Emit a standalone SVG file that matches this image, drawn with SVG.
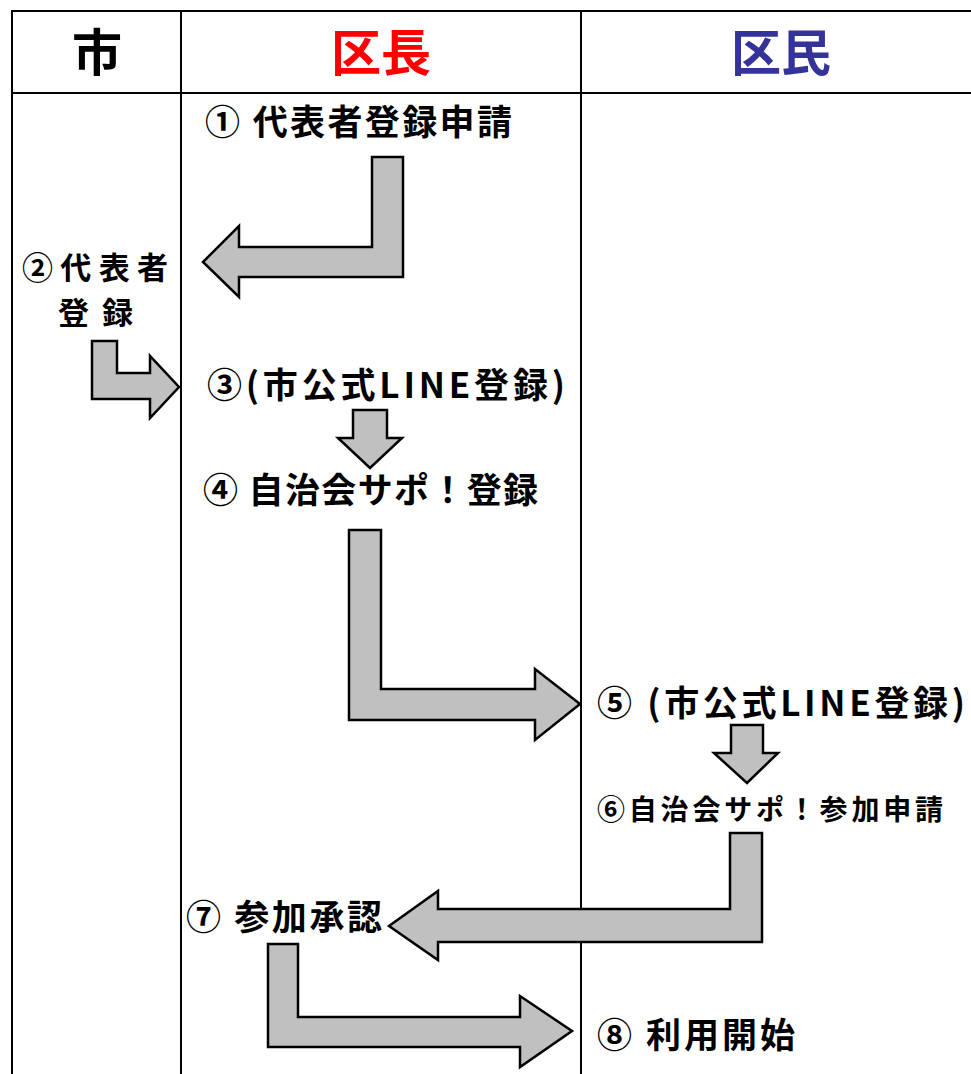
<svg xmlns="http://www.w3.org/2000/svg" width="971" height="1074" viewBox="0 0 971 1074">
<style>
.grid{stroke:#000;stroke-width:2;fill:none}
.arr{fill:#c0c0c0;stroke:#000;stroke-width:2.5;stroke-linejoin:miter}
.t{font-family:"Noto Sans CJK JP","Noto Sans",sans-serif;font-weight:bold;fill:#000;font-size:35px}
.s{font-size:28px}
.m{font-size:31px}
.h{font-family:"Noto Sans CJK JP","Noto Sans",sans-serif;font-weight:bold;font-size:50px;text-anchor:middle}
</style>
<rect width="971" height="1074" fill="#fff"/>
<g id="table">
<line class="grid" x1="11" y1="11" x2="971" y2="11"/>
<line class="grid" x1="12" y1="11" x2="12" y2="1074"/>
<line class="grid" x1="181" y1="11" x2="181" y2="1074"/>
<line class="grid" x1="581" y1="11" x2="581" y2="1074"/>
<line class="grid" x1="11" y1="93" x2="971" y2="93"/>
</g>
<g id="header">
<text class="h" x="97" y="71" fill="#000">市</text>
<text class="h" x="381" y="71" fill="#ff0000">区長</text>
<text class="h" x="781" y="71" fill="#333399">区民</text>
</g>
<g id="connectors">
<path class="arr" d="M372,157 L403,157 L403,277 L239,277 L239,297 L203,262 L239,226 L239,247 L372,247 Z"/>
<path class="arr" d="M92,341 L117,341 L117,373 L150,373 L150,356 L179,387 L150,418 L150,399 L92,399 Z"/>
<path class="arr" d="M353,410 L387,410 L387,438 L402,438 L370,468 L338,438 L353,438 Z"/>
<path class="arr" d="M349,530 L381,530 L381,689 L535,689 L535,669 L580,704 L535,740 L535,720 L349,720 Z"/>
<path class="arr" d="M731,725 L763,725 L763,753 L778,753 L747,783 L714,753 L731,753 Z"/>
<path class="arr" d="M730,833 L762,833 L762,942 L438,942 L438,960 L389,926 L438,891 L438,909 L730,909 Z"/>
<path class="arr" d="M268,944 L298,944 L298,1017 L520,1017 L520,996 L572,1031 L520,1067 L520,1047 L268,1047 Z"/>
</g>
<g id="step1"><text class="t" x="205" y="135" textLength="307">① 代表者登録申請</text></g>
<g id="step2"><text class="t m" x="22" y="279" textLength="146">②代表者</text>
<text class="t m" x="58" y="324" textLength="75">登録</text></g>
<g id="step3"><text class="t" x="207" y="398" textLength="358">③(市公式LINE登録)</text></g>
<g id="step4"><text class="t" x="203" y="503" textLength="335">④ 自治会サポ！登録</text></g>
<g id="step5"><text class="t" x="597" y="716" textLength="368">⑤ (市公式LINE登録)</text></g>
<g id="step6"><text class="t s" x="597" y="820" textLength="346">⑥自治会サポ！参加申請</text></g>
<g id="step7"><text class="t" x="186" y="930" textLength="196">⑦ 参加承認</text></g>
<g id="step8"><text class="t" x="597" y="1048" textLength="198">⑧ 利用開始</text></g>
</svg>
